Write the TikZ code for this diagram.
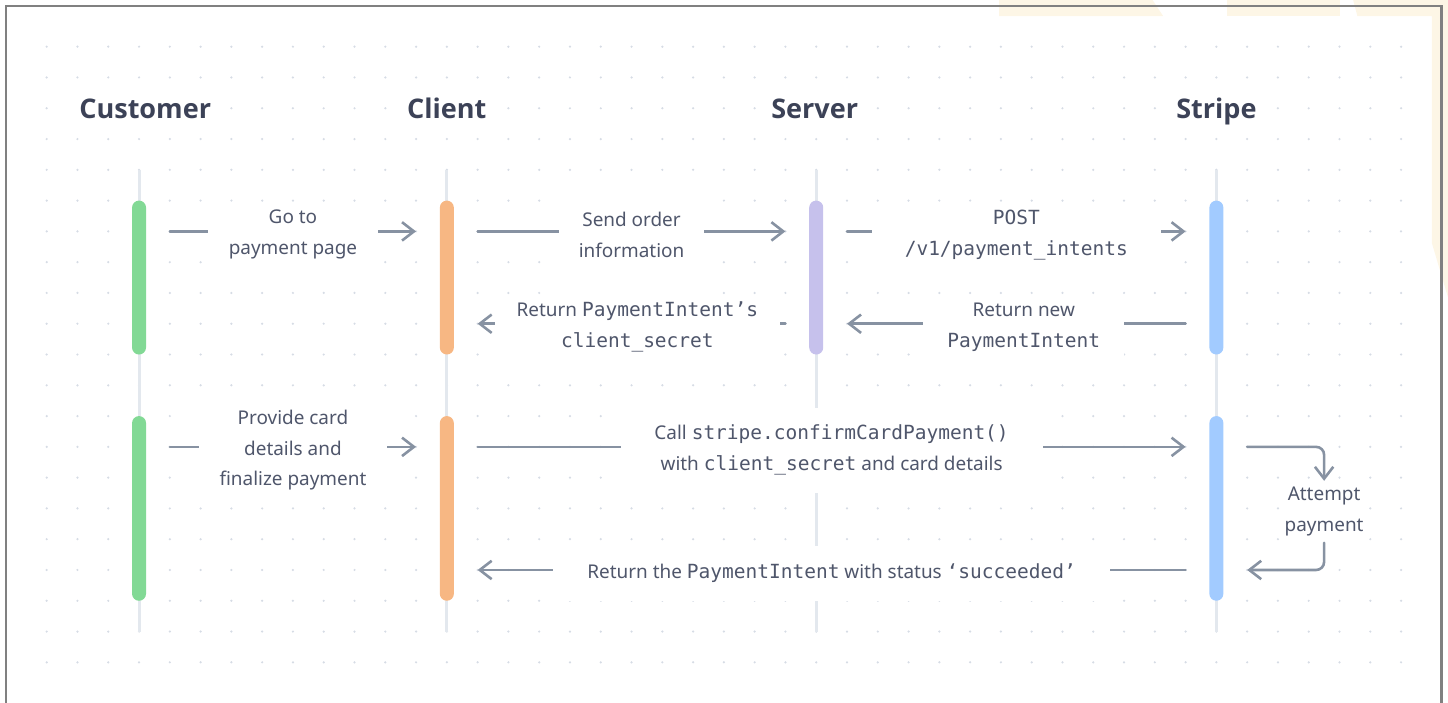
\documentclass[tikz,border=0pt]{standalone}
\usepackage{fontspec}
\setmainfont{Noto Sans}
\newfontfamily\headfont{Open Sans}
\newfontfamily\codefont{DejaVu Sans Mono}[Scale=1.03]
\usetikzlibrary{arrows.meta}

\definecolor{headtext}{RGB}{60,66,87}
\definecolor{msgtext}{RGB}{79,86,107}
\definecolor{arrowgray}{RGB}{135,146,162}
\definecolor{lifegray}{RGB}{227,232,238}
\definecolor{dotgray}{RGB}{214,220,229}
\definecolor{custgreen}{RGB}{130,217,149}
\definecolor{cliorange}{RGB}{247,183,131}
\definecolor{servpurple}{RGB}{198,193,236}
\definecolor{stripeblue}{RGB}{162,203,255}
\definecolor{cream}{RGB}{253,246,230}
\definecolor{framegray}{RGB}{128,128,128}

\newcommand{\code}[1]{{\codefont #1}}

\tikzset{
	head/.style = {fill=white, anchor=base, inner xsep=8pt, inner ysep=4pt, text=headtext, font=\headfont\fontsize{25}{30}\selectfont\bfseries},
	msg/.style = {fill=white, inner sep=0pt, yshift=-.11cm, align=center, text=msgtext, font=\fontsize{17.5}{28.4}\selectfont, minimum height=2cm},
	flow/.style = {draw=arrowgray, line width=2.4pt, line cap=round, -{Straight Barb[length=11pt, width=17pt]}},
	life/.style = {draw=lifegray, line width=2.8pt},
	bar/.style = {rounded corners=.227cm, minimum width=.455cm, inner sep=0pt, outer xsep=.773cm},
}

\begin{document}
\begin{tikzpicture}
	\useasboundingbox (-1.517, 1.517) rectangle (45.525, -21.29);
	
	% screenshot edge
	\fill [cream] (30.94, 1.6) -- (35.87, 1.6) -- (36.27, .997) -- (30.94, .997) -- cycle;
	\fill [cream] (38.35, 1.6) rectangle (42, .997);
	\fill [cream] (42.42, 1.6) -- (45.6, 1.6) -- (45.6, -8.4) -- (45, -6.38) -- (45, .997) -- (42.58, .997) -- cycle;
	\draw [framegray, line width=2.5pt] (-1.322, -21.5) -- (-1.322, 1.322) -- (45.31, 1.322) -- (45.31, -21.5);
	
	% dots
	\foreach \i in {0,...,44}
		\foreach \j in {0,...,20}
			\fill [dotgray] (\i, -\j) circle (.04);
	
	% lifelines
	\foreach \x in {3, 13, 25, 38}
		\draw [life] (\x, -4) -- (\x, -19);
	
	% headings
	\node [head] (customer) at (3.2, -2.32) {Customer};
	\node [head] (client) at (13, -2.32) {Client};
	\node [head] (server) at (24.95, -2.32) {Server};
	\node [head] (stripe) at (38, -2.32) {Stripe};
	
	% bars
	\node [bar, fill=custgreen, minimum height=5cm] (cu1) at (3, -7.5) {};
	\node [bar, fill=custgreen, minimum height=6cm] (cu2) at (3, -15) {};
	\node [bar, fill=cliorange, minimum height=5cm] (cl1) at (13, -7.5) {};
	\node [bar, fill=cliorange, minimum height=6cm] (cl2) at (13, -15) {};
	\node [bar, fill=servpurple, minimum height=5cm] (sv1) at (25, -7.5) {};
	\node [bar, fill=stripeblue, minimum height=5cm] (st1) at (38, -7.5) {};
	\node [bar, fill=stripeblue, minimum height=6cm] (st2) at (38, -15) {};
	
	% first round
	\draw [flow] (cu1.east |- 0, -6) -- node [msg, minimum width=5.52cm] (gotopay) {Go to\\payment page} (cl1.west |- 0, -6);
	\draw [flow] (cl1.east |- 0, -6) -- node [msg, minimum width=4.71cm, minimum height=4.1cm] (sendorder) {Send order\\information} (sv1.west |- 0, -6);
	\draw [flow] (sv1.east |- 0, -6) -- node [msg, minimum width=9.39cm] (post) {\code{POST}\\\code{/v1/payment\_intents}} (st1.west |- 0, -6);
	\draw [flow] (st1.west |- 0, -9) -- node [msg, pos=.478, minimum width=6.53cm] (newintent) {Return new\\\code{PaymentIntent}} (sv1.east |- 0, -9);
	\draw [flow] (sv1.west |- 0, -9) -- node [msg, pos=.481, minimum width=9.26cm] (secret) {Return \code{PaymentIntent’s}\\\code{client\_secret}} (cl1.east |- 0, -9);
	
	% second round
	\draw [flow] (cu2.east |- 0, -13) -- node [msg, minimum width=6.11cm, minimum height=3cm] (card) {Provide card\\details and\\finalize payment} (cl2.west |- 0, -13);
	\draw [flow] (cl2.east |- 0, -13) -- node [msg, minimum width=13.71cm, minimum height=2.76cm] (confirm) {Call \code{stripe.confirmCardPayment()}\\with \code{client\_secret} and card details} (st2.west |- 0, -13);
	\draw [flow] (st2.west |- 0, -17) -- node [msg, minimum width=18.1cm, minimum height=1.79cm] (succeeded) {Return the \code{PaymentIntent} with status \code{‘succeeded’}} (cl2.east |- 0, -17);
	
	% attempt loop
	\node [msg, inner xsep=2pt] (attempt) at (41.5, -15) {Attempt\\payment};
	\draw [flow, rounded corners=.26cm] (st2.east |- 0, -13) -| (attempt.north);
	\draw [flow, rounded corners=.26cm] (attempt.south) |- (st2.east |- 0, -17);
\end{tikzpicture}
\end{document}
